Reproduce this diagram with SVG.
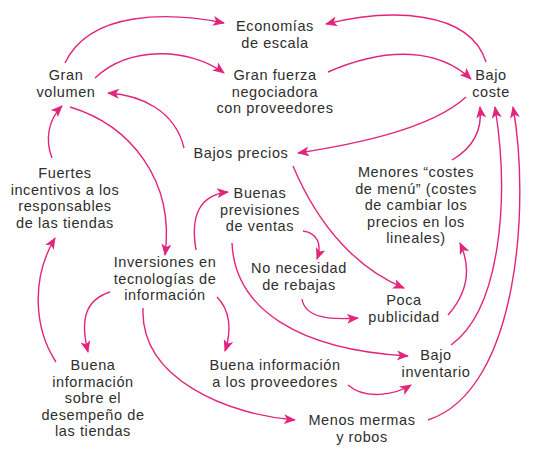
<svg xmlns="http://www.w3.org/2000/svg" width="536" height="455" viewBox="0 0 536 455">
<defs>
<marker id="ah" viewBox="0 0 12 10" refX="11" refY="5" markerWidth="12" markerHeight="10" markerUnits="userSpaceOnUse" orient="auto">
<path d="M0,0 L12,5 L0,10 L3,5 Z" fill="#e3247b"/>
</marker>
<style>
text{font-family:"Liberation Sans",Arial,sans-serif;font-size:14.5px;letter-spacing:0.6px;fill:#2e2e2e;text-anchor:middle}
.c path{fill:none;stroke:#e3247b;stroke-width:1.4;marker-end:url(#ah)}
</style>
</defs>
<rect width="536" height="455" fill="#fff"/>
<g class="c" id="connectors">
<path d="M65,63 C90,10 170,12 224,23"/>
<path d="M486,62 C470,10 390,8 326,24"/>
<path d="M95,78 C130,45 190,48 224,73"/>
<path d="M328,72 C390,45 440,50 471,79"/>
<path d="M466,97 C430,130 350,145 298,153"/>
<path d="M184,148 C175,110 140,95 108,93"/>
<path d="M70,107 C130,125 175,180 165,255"/>
<path d="M52,158 C45,140 48,120 62,106"/>
<path d="M56,362 C35,330 30,280 55,238"/>
<path d="M196,250 C190,215 200,195 228,192"/>
<path d="M303,231 C318,233 322,245 317,259"/>
<path d="M293,166 C320,230 360,270 404,288"/>
<path d="M232,243 C235,310 300,350 408,356"/>
<path d="M302,299 C305,318 330,320 358,318"/>
<path d="M448,315 C470,290 470,265 460,243"/>
<path d="M452,160 C478,145 482,125 480,107"/>
<path d="M451,345 C500,310 510,200 495,107"/>
<path d="M428,420 C520,390 530,200 513,107"/>
<path d="M110,292 C85,300 80,320 88,352"/>
<path d="M217,297 C230,310 232,330 225,351"/>
<path d="M143,308 C140,380 230,415 295,420"/>
<path d="M348,385 C365,400 395,395 411,385"/>
</g>
<g id="economias"><text x="275" y="31">Economías</text><text x="275" y="47.5">de escala</text></g>
<g id="gran-volumen"><text x="66" y="80">Gran</text><text x="66" y="96.5">volumen</text></g>
<g id="gran-fuerza"><text x="275" y="80">Gran fuerza</text><text x="275" y="96.5">negociadora</text><text x="275" y="113">con proveedores</text></g>
<g id="bajo-coste"><text x="491" y="80">Bajo</text><text x="491" y="96.5">coste</text></g>
<g id="bajos-precios"><text x="241" y="158">Bajos precios</text></g>
<g id="menores-costes"><text x="416" y="177">Menores “costes</text><text x="416" y="193.5">de menú” (costes</text><text x="416" y="210">de cambiar los</text><text x="416" y="226.5">precios en los</text><text x="416" y="243">lineales)</text></g>
<g id="fuertes-incentivos"><text x="65" y="178">Fuertes</text><text x="65" y="194.5">incentivos a los</text><text x="65" y="211">responsables</text><text x="65" y="227.5">de las tiendas</text></g>
<g id="buenas-previsiones"><text x="260" y="198">Buenas</text><text x="260" y="214.5">previsiones</text><text x="260" y="231">de ventas</text></g>
<g id="no-necesidad"><text x="299" y="273">No necesidad</text><text x="299" y="289.5">de rebajas</text></g>
<g id="inversiones"><text x="165" y="267">Inversiones en</text><text x="165" y="283.5">tecnologías de</text><text x="165" y="300">información</text></g>
<g id="poca-publicidad"><text x="404" y="305">Poca</text><text x="404" y="321.5">publicidad</text></g>
<g id="bajo-inventario"><text x="436" y="360">Bajo</text><text x="436" y="376.5">inventario</text></g>
<g id="buena-info-desempeno"><text x="93" y="370">Buena</text><text x="93" y="386.5">información</text><text x="93" y="403">sobre el</text><text x="93" y="419.5">desempeño de</text><text x="93" y="436">las tiendas</text></g>
<g id="buena-info-proveedores"><text x="275" y="370">Buena información</text><text x="275" y="386.5">a los proveedores</text></g>
<g id="menos-mermas"><text x="362" y="425">Menos mermas</text><text x="362" y="441.5">y robos</text></g>
</svg>
